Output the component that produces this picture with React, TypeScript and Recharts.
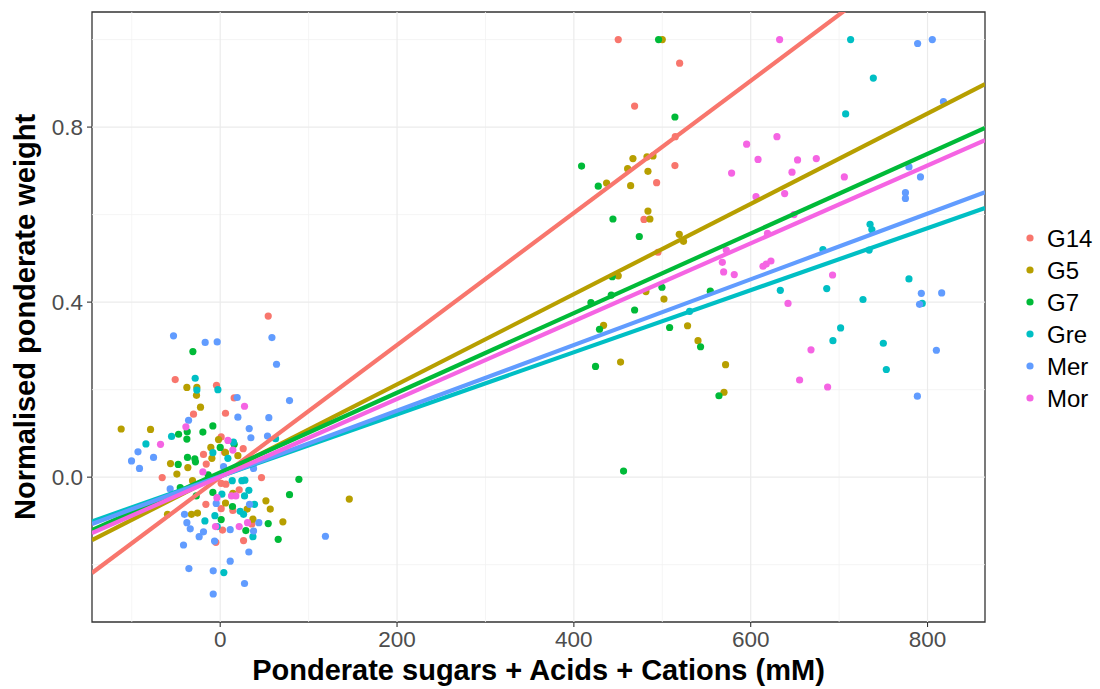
import React from "react"
import {
    ScatterChart,
    Scatter,
    XAxis,
    YAxis,
    ReferenceLine,
    ReferenceArea,
} from "recharts"

// groups and their ggplot hue colours
const groups = ["G14", "G5", "G7", "Gre", "Mer", "Mor"]
const colors = ["#F8766D", "#B79F00", "#00BA38", "#00BFC4", "#619CFF", "#F564E3"]

// observed points, [mM, normalised weight]
const g14Points = [
    [-50.9, 0.223], [-4.2, 0.21], [15.8, 0.181], [6, 0.146], [-30.2, 0.144], [-65.6, -0.001],
    [-18.9, 0.052], [1.1, 0.092], [4.9, 0.057], [26, 0.065], [-15.8, 0.03], [46.7, -0.001],
    [1.1, -0.014], [6.4, -0.016], [-16.2, -0.062], [1.1, -0.072], [14.3, -0.076], [35.8, -0.107],
    [2.6, -0.121], [26.4, -0.145], [-4.9, -0.149], [21.5, -0.029], [54.3, 0.368],
    [450.2, 1.0], [519.6, 0.946], [468.7, 0.848], [514.7, 0.778], [514.3, 0.712], [493.6, 0.673],
    [479.3, 0.589], [495.1, 0.514],
]
const g5Points = [
    [-37.7, 0.205], [-26.4, 0.205], [-26.8, 0.187], [-22.3, 0.16], [-78.8, 0.109], [-56.2, 0.031],
    [-49, 0.007], [-36.6, 0.022], [-10.6, 0.068], [-1.9, 0.086], [-9.4, 0.043], [6, 0.056],
    [20, 0.049], [-32.5, -0.085], [-25.7, -0.082], [-59.6, -0.085], [-31.3, -0.008], [6, -0.059],
    [30.5, -0.073], [51.7, -0.054], [56.6, -0.073], [70.9, -0.102], [37, -0.096], [14.3, -0.037],
    [146, -0.05], [-112, 0.11],
    [500, 1.0], [466.8, 0.728], [482.7, 0.732], [489.5, 0.734], [460.8, 0.705], [483.8, 0.699],
    [437, 0.672], [464.2, 0.666], [483.8, 0.608], [486, 0.59], [519.2, 0.555], [524, 0.539],
    [450.2, 0.46], [433.6, 0.347], [452.8, 0.263], [481.5, 0.424], [501.9, 0.407], [528.6, 0.346],
    [540.4, 0.312], [571.6, 0.257], [569.8, 0.194],
]
const g7Points = [
    [-30.9, 0.287], [-47.1, 0.098], [-37.3, 0.104], [-37.7, 0.087], [-19.6, 0.103], [-8.3, 0.117],
    [-37, 0.045], [-28.7, 0.042], [-28, 0.035], [-47.5, 0.029], [-13.6, 0.005], [0, 0.068],
    [15.8, 0.075], [-45.2, -0.024], [-27.1, -0.043], [-8.3, -0.035], [13.9, -0.067], [1.1, -0.097],
    [29, -0.122], [54.3, -0.106], [65.6, -0.142], [78.4, -0.04], [89, -0.005],
    [408.7, 0.711], [427.6, 0.665], [444.2, 0.59], [474, 0.55], [495.8, 1.0], [514.3, 0.823],
    [419.3, 0.399], [429, 0.338], [442.3, 0.416], [443.4, 0.458], [468.7, 0.382], [499.6, 0.434],
    [508.3, 0.342], [424.5, 0.253], [456.2, 0.014], [554.3, 0.425], [543.3, 0.298], [564.1, 0.186],
]
const grePoints = [
    [-28.3, 0.226], [-26.4, 0.199], [-2.6, 0.2], [-84, 0.076], [-55, 0.093], [15, 0.08],
    [-8.3, 0.056], [8.7, 0.043], [62.6, 0.088], [13.6, -0.008], [24.5, -0.008], [27.9, -0.007],
    [32.4, -0.03], [1.9, -0.039], [27.5, -0.043], [38.8, -0.062], [22.6, -0.078], [-17.3, -0.1],
    [-6, -0.088], [-3.4, -0.113], [26.4, -0.085], [37, -0.136], [4.1, -0.218],
    [713, 1.0], [738.7, 0.912], [707.4, 0.83], [735, 0.578], [737, 0.566], [734, 0.519],
    [681.7, 0.52], [633.5, 0.427], [686, 0.431], [727, 0.406], [779, 0.453], [794, 0.397],
    [701.7, 0.341], [693, 0.312], [750, 0.306], [753.4, 0.246], [530.9, 0.379],
]
const merPoints = [
    [-52.8, 0.323], [-17, 0.308], [-3.4, 0.309], [58.5, 0.319], [63.7, 0.258], [78.4, 0.175],
    [-35.8, 0.13], [19.2, 0.182], [20, 0.137], [32.8, 0.111], [34.7, 0.09], [55, 0.136],
    [53.5, 0.094], [-93, 0.058], [-75.4, 0.045], [-100.3, 0.037], [-91.3, 0.02], [3.8, 0.024],
    [37.7, 0.02], [-56.6, -0.027], [-40.4, -0.085], [-37.7, -0.104], [-33.9, -0.118], [-41.5, -0.155],
    [-23.8, -0.136], [-18.9, -0.125], [-6.4, -0.146], [11.3, -0.12], [37.7, -0.123], [43.7, -0.104],
    [33.2, -0.062], [32.4, -0.171], [11.3, -0.192], [-35.4, -0.209], [-7.9, -0.214], [27.5, -0.243],
    [-7.9, -0.267], [119, -0.135], [-4.5, -0.06],
    [788.8, 0.991], [805.4, 1.0], [818, 0.858], [779, 0.709], [792, 0.686], [775, 0.65],
    [775, 0.637], [793, 0.42], [816, 0.421], [791, 0.395], [810, 0.29], [788.5, 0.185],
]
const morPoints = [
    [-38.8, 0.115], [-67.5, 0.075], [27.5, 0.162], [8.7, 0.084], [14.3, 0.062], [-19.6, 0.012],
    [12.8, -0.043], [17.7, -0.043], [-3.7, -0.047], [30.9, -0.104], [21.5, -0.113], [-5.3, -0.113],
    [632.7, 1.0], [629.7, 0.778], [595.4, 0.761], [608.3, 0.726], [653, 0.725], [674.2, 0.728],
    [646.7, 0.697], [578.4, 0.695], [705.9, 0.686], [606, 0.641], [638.4, 0.648], [567.9, 0.491],
    [569.4, 0.469], [581.4, 0.463], [613.9, 0.482], [617.6, 0.487], [622.9, 0.494], [692.6, 0.462],
    [642.2, 0.397], [668.2, 0.291], [655.3, 0.222], [687, 0.206], [619, 0.557], [572.4, 0.519],
    [649, 0.6],
]
const allPoints = [g14Points, g5Points, g7Points, grePoints, merPoints, morPoints]

// fitted lines: value at the left and right edge of the panel
const xRange = [-145, 865]
const yRange = [-0.331, 1.063]
const fitLeft = [-0.219, -0.144, -0.121, -0.101, -0.107, -0.128]
const fitRight = [1.306, 0.898, 0.798, 0.615, 0.651, 0.77]

const xTicks = [0, 200, 400, 600, 800]
const yTicks = [0, 0.4, 0.8]
const xMinor = [-100, 100, 300, 500, 700]
const yMinor = [-0.2, 0.2, 0.6, 1.0]

const toRows = (pts: number[][]) => pts.map(([x, y]) => ({ x, y }))

const Dot = (color: string) => (props: any) =>
    <circle cx={props.cx} cy={props.cy} r={3.6} fill={color} />

const font = "'Liberation Sans', Arial, sans-serif"

export default function App() {
    return (
        <div style={{ position: "absolute", left: 0, top: 0, width: 1100, height: 689, background: "#fff", fontFamily: font }}>
            <ScatterChart width={1100} height={689} margin={{ top: 12, right: 115, bottom: 0, left: 0 }}>
                {xMinor.map(v => <ReferenceLine key={"xm" + v} x={v} stroke="#F2F2F2" strokeWidth={0.8} />)}
                {yMinor.map(v => <ReferenceLine key={"ym" + v} y={v} stroke="#F2F2F2" strokeWidth={0.8} />)}
                {xTicks.map(v => <ReferenceLine key={"xM" + v} x={v} stroke="#EBEBEB" strokeWidth={1.2} />)}
                {yTicks.map(v => <ReferenceLine key={"yM" + v} y={v} stroke="#EBEBEB" strokeWidth={1.2} />)}
                <XAxis
                    type="number"
                    dataKey="x"
                    domain={xRange}
                    allowDataOverflow
                    ticks={xTicks}
                    height={67}
                    axisLine={false}
                    tickLine={{ stroke: "#333333", strokeWidth: 1.1 }}
                    tickSize={5}
                    tickMargin={4}
                    tick={{ fontSize: 22.5, fill: "#4D4D4D" }}
                    label={{
                        content: (p: any) => (
                            <text x={p.viewBox.x + p.viewBox.width / 2} y={680} textAnchor="middle"
                                fontSize={29} fontWeight="bold" fill="#000">
                                Ponderate sugars + Acids + Cations (mM)
                            </text>
                        ),
                    }}
                />
                <YAxis
                    type="number"
                    dataKey="y"
                    domain={yRange}
                    allowDataOverflow
                    ticks={yTicks}
                    width={92}
                    axisLine={false}
                    tickLine={{ stroke: "#333333", strokeWidth: 1.1 }}
                    tickSize={5}
                    tickMargin={4}
                    tickFormatter={(v: number) => v.toFixed(1)}
                    tick={{ fontSize: 22.5, fill: "#4D4D4D" }}
                    label={{
                        content: (p: any) => (
                            <text transform={`translate(35, ${p.viewBox.y + p.viewBox.height / 2}) rotate(-90)`}
                                textAnchor="middle" fontSize={29} fontWeight="bold" fill="#000">
                                Normalised ponderate weight
                            </text>
                        ),
                    }}
                />
                {allPoints.map((pts, i) => (
                    <Scatter key={groups[i]} name={groups[i]} data={toRows(pts)}
                        shape={Dot(colors[i])} isAnimationActive={false} />
                ))}
                {groups.map((g, i) => (
                    <Scatter key={"fit" + g} data={[{ x: xRange[0], y: fitLeft[i] }, { x: xRange[1], y: fitRight[i] }]}
                        line={{ stroke: colors[i], strokeWidth: 4.2 }} shape={() => null}
                        isAnimationActive={false} />
                ))}
                <ReferenceArea x1={xRange[0]} x2={xRange[1]} y1={yRange[0]} y2={yRange[1]}
                    fill="none" fillOpacity={0} stroke="#333333" strokeWidth={1.3} />
            </ScatterChart>
            <svg width={100} height={220} style={{ position: "absolute", left: 1015, top: 218 }}>
                {groups.map((g, i) => (
                    <g key={g}>
                        <circle cx={15} cy={20 + i * 32} r={3.6} fill={colors[i]} />
                        <text x={32} y={20 + i * 32 + 8.5} fontSize={24} fill="#000" fontFamily={font}>{g}</text>
                    </g>
                ))}
            </svg>
        </div>
    )
}
